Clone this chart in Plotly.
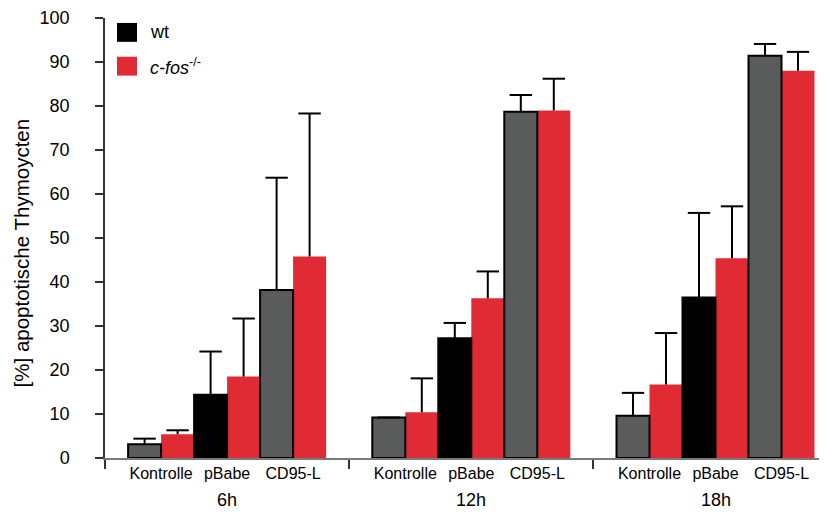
import plotly.graph_objects as go

# ---- data ----
groups = ["6h", "12h", "18h"]
categories = ["Kontrolle", "pBabe", "CD95-L"]
wt_values = [3.1, 14.4, 38.2, 9.2, 27.2, 78.7, 9.6, 36.5, 91.4]
wt_errors = [1.3, 9.8, 25.5, 0.0, 3.5, 3.8, 5.2, 19.2, 2.7]
ko_values = [5.4, 18.5, 45.8, 10.4, 36.3, 79.0, 16.7, 45.4, 88.0]
ko_errors = [0.9, 13.2, 32.5, 7.7, 6.1, 7.2, 11.7, 11.8, 4.3]
y_ticks = [0, 10, 20, 30, 40, 50, 60, 70, 80, 90, 100]
series_names = ["wt", "<i>c-fos</i><sup>-/-</sup>"]
y_title = "[%] apoptotische Thymoycten"

# ---- layout helpers ----
GROUP_W = 7.4     # width of one time group in bar units
OFFSET = 0.7      # space before first bar in a group
GRAY = "#5a5c5b"
RED = "#e02b35"
BLACK = "#000000"
FONT = "Liberation Sans, Arial, Helvetica, sans-serif"

wt_x, ko_x, pair_x, wt_colors = [], [], [], []
for g in range(len(groups)):
    for c in range(len(categories)):
        base = g * GROUP_W + OFFSET + 2 * c
        wt_x.append(base + 0.5)
        ko_x.append(base + 1.5)
        pair_x.append(base + 1.0)
        wt_colors.append(BLACK if categories[c] == "pBabe" else GRAY)
tick_text = categories * len(groups)
boundaries = [g * GROUP_W for g in range(len(groups))]

fig = go.Figure()
for xs, vals, errs, name, marker in [
    (ko_x, ko_values, ko_errors, series_names[1], dict(color=RED, line=dict(width=0))),
    (wt_x, wt_values, wt_errors, series_names[0],
     dict(color=wt_colors, line=dict(width=2, color=BLACK))),
]:
    fig.add_trace(go.Bar(
        x=xs, y=vals, width=1.0, name=name, marker=marker,
        error_y=dict(type="data", array=errs, symmetric=False,
                     arrayminus=[0] * len(errs), color=BLACK, thickness=2, width=0),
        showlegend=False,
    ))
    # caps only on the upper end of the one-sided error bars
    fig.add_trace(go.Scatter(
        x=xs, y=[v + e for v, e in zip(vals, errs)], mode="markers",
        marker=dict(symbol="line-ew", size=16, line=dict(width=2, color=BLACK)),
        showlegend=False, hoverinfo="skip",
    ))

# page body has an 8px margin: shift the figure so the plot area lands at 105..827 x 15..458
PAGE = 8
L, T, R_EDGE, B_EDGE = 105, 15, 827, 458
W, H = 827 - PAGE, 513 - PAGE
plot_w = R_EDGE - L
plot_h = B_EDGE - T


def px_x(px):
    return (px - L) / plot_w


def px_y(py):
    return (B_EDGE - py) / plot_h


shapes = []
annotations = []
legend_colors = [BLACK, RED]
legend_tops = [20, 54]
for name, col, top in zip(series_names, legend_colors, legend_tops):
    shapes.append(dict(type="rect", xref="paper", yref="paper",
                       x0=px_x(117), x1=px_x(137), y0=px_y(top + 19), y1=px_y(top),
                       fillcolor=col, line=dict(width=0)))
    annotations.append(dict(xref="paper", yref="paper", x=px_x(148), y=px_y(top + 9.5),
                            text=name, showarrow=False, xanchor="left", yanchor="middle",
                            font=dict(family=FONT, size=18, color=BLACK)))

for g, label in enumerate(groups):
    annotations.append(dict(xref="x", yref="paper", x=g * GROUP_W + GROUP_W / 2,
                            y=px_y(500), text=label, showarrow=False,
                            xanchor="center", yanchor="middle",
                            font=dict(family=FONT, size=18, color=BLACK)))

annotations.append(dict(xref="paper", yref="paper", x=px_x(21), y=px_y(252),
                        text=y_title, textangle=-90, showarrow=False,
                        xanchor="center", yanchor="middle",
                        font=dict(family=FONT, size=20.5, color=BLACK)))

fig.update_layout(
    width=W, height=H,
    margin=dict(l=L - PAGE, r=0, t=T - PAGE, b=H - (B_EDGE - PAGE), pad=0),
    paper_bgcolor="white", plot_bgcolor="white",
    barmode="overlay",
    font=dict(family=FONT, color=BLACK),
    shapes=shapes, annotations=annotations,
    showlegend=False,
)
fig.update_xaxes(
    range=[0, plot_w / 33.0],
    showgrid=False, zeroline=False,
    showline=True, linecolor="#7a7a7a", linewidth=1.5,
    tickmode="array", tickvals=pair_x, ticktext=tick_text, ticks="",
    tickfont=dict(family=FONT, size=16, color=BLACK),
    minor=dict(tickmode="array", tickvals=boundaries, ticks="outside",
               ticklen=9, tickwidth=1.5, tickcolor="#333333"),
)
fig.update_yaxes(
    range=[0, 100],
    showgrid=False, zeroline=False,
    showline=True, linecolor="#333333", linewidth=1.5,
    tickmode="array", tickvals=y_ticks, ticks="outside", ticklen=8,
    tickwidth=1.5, tickcolor="#333333",
    ticklabelstandoff=22, ticklabeloverflow="allow",
    tickfont=dict(family=FONT, size=18, color=BLACK),
)

fig.write_html("out.html")
